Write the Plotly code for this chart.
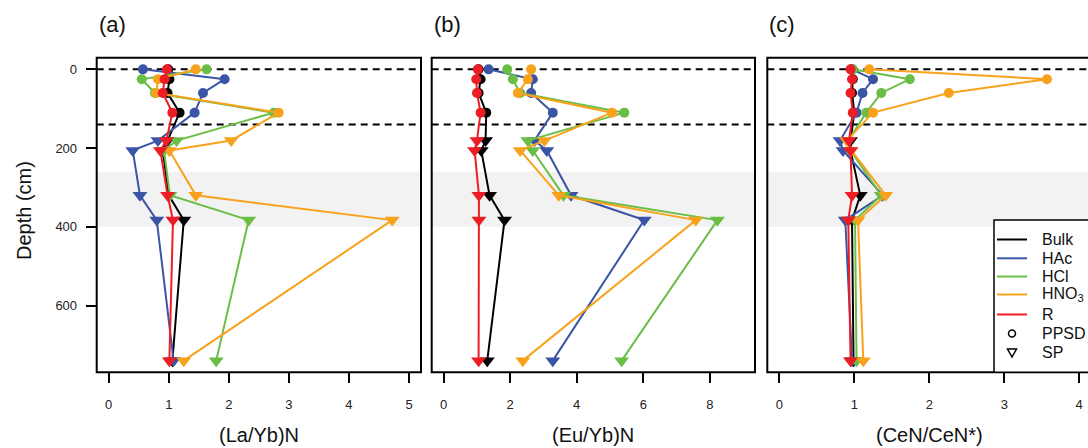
import plotly.graph_objects as go

W, H = 1088, 448

# ---------------- data ----------------
depths = [0, 25, 60, 110, 181, 206, 320, 383, 740]
sample_type = ["PPSD", "PPSD", "PPSD", "PPSD", "SP", "SP", "SP", "SP", "SP"]
series_names = ["Bulk", "HAc", "HCl", "HNO3", "R"]
series_labels = ["Bulk", "HAc", "HCl", "HNO<sub>3</sub>", "R"]

la_yb_bulk = [0.99, 1.01, 0.98, 1.18, 0.98, 0.90, 1.00, 1.25, 1.06]
la_yb_hac = [0.57, 1.93, 1.57, 1.43, 0.82, 0.40, 0.52, 0.80, 1.08]
la_yb_hcl = [1.63, 0.55, 0.77, 2.75, 1.13, 0.92, 1.02, 2.33, 1.79]
la_yb_hno3 = [1.45, 0.82, 0.79, 2.83, 2.04, 1.01, 1.45, 4.72, 1.25]
la_yb_r = [0.97, 0.93, 0.90, 1.06, 0.96, 0.86, 0.98, 1.07, 1.01]

eu_yb_bulk = [1.05, 1.11, 1.05, 1.28, 1.26, 1.13, 1.38, 1.83, 1.31]
eu_yb_hac = [1.35, 2.68, 2.63, 3.28, 2.73, 3.10, 3.83, 6.03, 3.28]
eu_yb_hcl = [1.91, 2.08, 2.30, 5.43, 2.53, 2.68, 3.60, 8.23, 5.35]
eu_yb_hno3 = [2.63, 2.53, 2.23, 5.06, 3.03, 2.30, 3.46, 7.58, 2.38]
eu_yb_r = [1.03, 0.98, 1.00, 1.11, 1.00, 0.93, 1.06, 1.06, 1.05]

ce_bulk = [0.97, 0.98, 0.97, 1.00, 0.95, 0.95, 1.08, 0.97, 0.99]
ce_hac = [0.97, 1.25, 1.11, 1.03, 0.81, 0.85, 1.38, 0.88, 0.97]
ce_hcl = [0.98, 1.74, 1.36, 1.16, 0.92, 0.95, 1.36, 1.01, 1.03]
ce_hno3 = [1.20, 3.57, 2.26, 1.25, 0.90, 0.96, 1.42, 1.05, 1.12]
ce_r = [0.95, 0.97, 0.95, 0.98, 0.93, 0.95, 0.97, 0.92, 0.95]

panel_labels = ["(a)", "(b)", "(c)"]
x_titles = ["(La/Yb)N", "(Eu/Yb)N", "(CeN/CeN*)"]
x_ticks = [[0, 1, 2, 3, 4, 5], [0, 2, 4, 6, 8], [0, 1, 2, 3, 4]]
y_ticks = [0, 200, 400, 600]
boundary_depths = [0, 140]
shaded_zone = [260, 400]

panels = [
    [la_yb_bulk, la_yb_hac, la_yb_hcl, la_yb_hno3, la_yb_r],
    [eu_yb_bulk, eu_yb_hac, eu_yb_hcl, eu_yb_hno3, eu_yb_r],
    [ce_bulk, ce_hac, ce_hcl, ce_hno3, ce_r],
]

# ---------------- styles ----------------
colors = ["#000000", "#3A55A5", "#6BBE45", "#F8A21C", "#EC1D25"]
FONT = "Liberation Sans, Arial, sans-serif"
x_ranges = [[-0.2, 5.2], [-0.36, 9.36], [-0.16, 4.117]]
y_range = [769.6, -29.6]


def px(x):
    return x / W


def py(y):
    return 1 - y / H


x_domains = [[px(96.7), px(421)], [px(431.7), px(755)], [px(767.3), 1.0]]
y_domain = [py(372.3), py(57.7)]

fig = go.Figure()

symbol_map = {"PPSD": "circle", "SP": "triangle-down"}
size_map = {"PPSD": 10, "SP": 13}

for p, series_list in enumerate(panels):
    xa = "x" if p == 0 else f"x{p+1}"
    ya = "y" if p == 0 else f"y{p+1}"
    for s, vals in enumerate(series_list):
        fig.add_trace(go.Scatter(
            x=vals, y=depths, xaxis=xa, yaxis=ya,
            mode="lines+markers",
            name=series_names[s],
            line=dict(color=colors[s], width=2),
            marker=dict(symbol=[symbol_map[t] for t in sample_type],
                        size=[size_map[t] for t in sample_type],
                        color=colors[s], opacity=1, line=dict(width=0)),
            opacity=1,
            showlegend=False, cliponaxis=False, hoverinfo="skip",
        ))

layout = dict(
    width=W, height=H,
    margin=dict(l=0, r=0, t=0, b=0),
    paper_bgcolor="white", plot_bgcolor="rgba(0,0,0,0)",
    font=dict(family=FONT, color="#222222"),
    showlegend=False,
)

for p in range(3):
    suffix = "" if p == 0 else str(p + 1)
    layout[f"xaxis{suffix}"] = dict(
        domain=x_domains[p], range=x_ranges[p], anchor=f"y{suffix}",
        tickmode="array", tickvals=x_ticks[p],
        ticks="outside", ticklen=10, tickwidth=2, tickcolor="black",
        showline=False, showgrid=False, zeroline=False,
        tickfont=dict(size=13, color="#222222", family=FONT),
        ticklabelstandoff=10,
    )
    layout[f"yaxis{suffix}"] = dict(
        domain=y_domain, range=y_range, anchor=f"x{suffix}",
        showline=False, showgrid=False, zeroline=False,
        tickmode="array", tickvals=y_ticks if p == 0 else [],
        ticks="outside" if p == 0 else "", ticklen=10, tickwidth=2,
        tickcolor="black", showticklabels=(p == 0),
        tickfont=dict(size=13, color="#222222", family=FONT),
        ticklabelstandoff=6,
    )

shapes = []
annotations = []
for p in range(3):
    suffix = "" if p == 0 else str(p + 1)
    xd = f"x{suffix} domain"
    yr = f"y{suffix}"
    shapes.append(dict(type="rect", xref=xd, yref=yr, x0=0, x1=1,
                       y0=shaded_zone[0], y1=shaded_zone[1],
                       fillcolor="#F2F2F2", line=dict(width=0), layer="below"))
    for d in boundary_depths:
        shapes.append(dict(type="line", xref=xd, yref=yr, x0=0, x1=1, y0=d, y1=d,
                           line=dict(color="black", width=2, dash="7px,5px"),
                           layer="below"))
    shapes.append(dict(type="rect", xref=xd, yref=f"y{suffix} domain",
                       x0=0, x1=1 if p < 2 else 1.03, y0=0, y1=1,
                       line=dict(color="black", width=2), layer="above"))
    annotations.append(dict(text=panel_labels[p], xref="paper", yref="paper",
                            x=x_domains[p][0], y=py(24), xanchor="left",
                            yanchor="middle", showarrow=False,
                            font=dict(size=22, color="#111111", family=FONT)))
    annotations.append(dict(text=x_titles[p], xref="paper", yref="paper",
                            x=px([258.5, 593, 929][p]),
                            y=py(435), xanchor="center", yanchor="middle",
                            showarrow=False,
                            font=dict(size=20, color="#111111", family=FONT)))

annotations.append(dict(text="Depth (cm)", xref="paper", yref="paper",
                        x=px(24), y=py(211), textangle=-90, showarrow=False,
                        xanchor="center", yanchor="middle",
                        font=dict(size=20, color="#111111", family=FONT)))

# ---------------- legend (drawn manually) ----------------
shapes.append(dict(type="rect", xref="paper", yref="paper",
                   x0=px(994), x1=px(1100), y0=py(372.3), y1=py(220),
                   fillcolor="white", line=dict(color="black", width=1.5),
                   layer="above"))
leg_y = [239.5, 258.3, 276.5, 294.5, 314.5, 333.5, 352.5]
for s in range(5):
    shapes.append(dict(type="line", xref="paper", yref="paper",
                       x0=px(997), x1=px(1027), y0=py(leg_y[s]), y1=py(leg_y[s]),
                       line=dict(color=colors[s], width=2), layer="above"))
# open circle (PPSD) and open down-triangle (SP) symbols
mx = 1012
shapes.append(dict(type="circle", xref="paper", yref="paper",
                   x0=px(mx - 3.5), x1=px(mx + 3.5),
                   y0=py(leg_y[5] + 3.5), y1=py(leg_y[5] - 3.5),
                   line=dict(color="black", width=1.5), layer="above"))
ty = leg_y[6]
shapes.append(dict(type="path", xref="paper", yref="paper",
                   path=(f"M {px(mx - 4.5)},{py(ty - 3.5)} L {px(mx + 4.5)},{py(ty - 3.5)} "
                         f"L {px(mx)},{py(ty + 4.5)} Z"),
                   line=dict(color="black", width=1.5), layer="above"))

leg_text = series_labels + ["PPSD", "SP"]
for i, t in enumerate(leg_text):
    annotations.append(dict(text=t, xref="paper", yref="paper",
                            x=px(1040), y=py(leg_y[i]), xanchor="left",
                            yanchor="middle", showarrow=False,
                            font=dict(size=16, color="#111111", family=FONT)))

layout["shapes"] = shapes
layout["annotations"] = annotations
fig.update_layout(**layout)

fig.write_html(
    "out.html",
    config={"displayModeBar": False},
    post_script="document.body.style.margin='0';document.body.style.padding='0';"
                "document.body.style.overflow='hidden';",
)
